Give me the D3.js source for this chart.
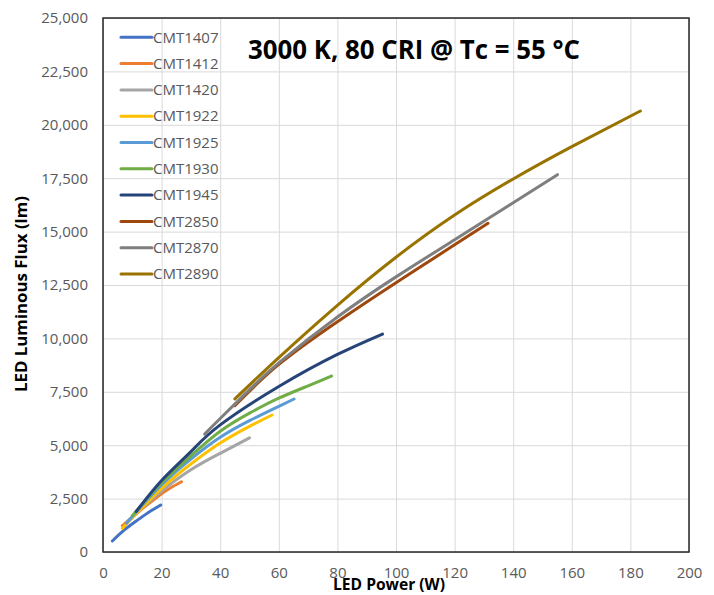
<!DOCTYPE html>
<html><head><meta charset="utf-8">
<script src="https://cdn.jsdelivr.net/npm/d3@7"></script>
<style>
body{margin:0;background:#fff;}
svg{display:block;font-family:"Open Sans",sans-serif;}
</style></head>
<body>
<svg id="chart" width="714" height="595"></svg>
<script>
// ---- data (LED power W, luminous flux lm) ----
const seriesNames = ["CMT1407","CMT1412","CMT1420","CMT1922","CMT1925","CMT1930","CMT1945","CMT2850","CMT2870","CMT2890"];
const cmt1407 = [[3.2,515],[7,1000],[11.5,1466],[15.5,1850],[19.7,2200]];
const cmt1412 = [[6.6,1231],[11.5,1811],[15,2200],[19.4,2669],[23,3000],[26.8,3291]];
const cmt1420 = [[8.5,1450],[12,1900],[20,2850],[30,3850],[40,4620],[50,5340]];
const cmt1922 = [[6.6,1100],[10,1600],[20,2980],[30,4120],[40,5100],[50,5880],[57.7,6414]];
const cmt1925 = [[8,1350],[12,1970],[20,3150],[30,4350],[40,5370],[50,6150],[60,6820],[65.2,7163]];
const cmt1930 = [[10,1700],[15,2500],[20,3250],[30,4500],[40,5650],[50,6500],[60,7200],[70,7780],[78,8240]];
const cmt1945 = [[11.3,1890],[20,3350],[30,4700],[40,5950],[60,7750],[80,9250],[95.4,10206]];
const cmt2850 = [[45,6850],[60,8780],[80,10782],[100,12608],[120,14380],[131.4,15387]];
const cmt2870 = [[34.7,5520],[40,6250],[50,7600],[60,8850],[80,11000],[100,12880],[120,14620],[140,16350],[155.1,17665]];
const cmt2890 = [[45,7163],[60,9100],[80,11550],[100,13800],[120,15777],[140,17463],[160,18976],[183.4,20646]];
const seriesData = [cmt1407,cmt1412,cmt1420,cmt1922,cmt1925,cmt1930,cmt1945,cmt2850,cmt2870,cmt2890];
const xTicks = [0,20,40,60,80,100,120,140,160,180,200];
const yTicks = [0,2500,5000,7500,10000,12500,15000,17500,20000,22500,25000];
const titleText = "3000 K, 80 CRI @ Tc = 55 °C";
const xTitle = "LED Power (W)";
const yTitle = "LED Luminous Flux (lm)";

// ---- styles ----
const colors = ["#4472C4","#ED7D31","#A5A5A5","#FFC000","#5B9BD5","#70AD47","#264478","#9E480E","#7F7F7F","#997300"];
const m = {left:103, right:689, top:18, bottom:552};

const svg = d3.select("#chart");
const x = d3.scaleLinear().domain([0,200]).range([m.left,m.right]);
const y = d3.scaleLinear().domain([0,25000]).range([m.bottom,m.top]);

// gridlines
svg.append("g").attr("transform",`translate(0,${m.bottom})`)
  .call(d3.axisBottom(x).tickValues(xTicks).tickSize(-(m.bottom-m.top)).tickFormat(""))
  .call(g=>g.select(".domain").remove())
  .call(g=>g.selectAll("line").attr("stroke","#d9d9d9").attr("stroke-width",1));
svg.append("g").attr("transform",`translate(${m.left},0)`)
  .call(d3.axisLeft(y).tickValues(yTicks).tickSize(-(m.right-m.left)).tickFormat(""))
  .call(g=>g.select(".domain").remove())
  .call(g=>g.selectAll("line").attr("stroke","#d9d9d9").attr("stroke-width",1));

// tick labels
svg.append("g").attr("transform",`translate(0,${m.bottom})`)
  .call(d3.axisBottom(x).tickValues(xTicks).tickSize(0).tickPadding(15).tickFormat(d3.format("d")))
  .call(g=>g.select(".domain").remove())
  .call(g=>g.selectAll("text").attr("fill","#595959").style("font-size","15px").style("font-family","Open Sans"));
svg.append("g").attr("transform",`translate(${m.left},0)`)
  .call(d3.axisLeft(y).tickValues(yTicks).tickSize(0).tickPadding(15).tickFormat(d3.format(",")))
  .call(g=>g.select(".domain").remove())
  .call(g=>g.selectAll("text").attr("fill","#595959").style("font-size","15px").style("font-family","Open Sans"));

// plot border
svg.append("rect").attr("x",m.left).attr("y",m.top).attr("width",m.right-m.left).attr("height",m.bottom-m.top)
  .attr("fill","none").attr("stroke","#262626").attr("stroke-width",1.5);

// lines
const line = d3.line().x(d=>x(d[0])).y(d=>y(d[1])).curve(d3.curveNatural);
svg.append("g").selectAll("path").data(seriesData).join("path")
  .attr("d",line).attr("fill","none")
  .attr("stroke",(d,i)=>colors[i]).attr("stroke-width",3).attr("stroke-linecap","round");

// legend
const lg = svg.append("g");
seriesNames.forEach((n,i)=>{
  const yy = 37.3 + i*26.3;
  lg.append("line").attr("x1",121).attr("x2",152).attr("y1",yy).attr("y2",yy)
    .attr("stroke",colors[i]).attr("stroke-width",3).attr("stroke-linecap","round");
  lg.append("text").attr("x",153).attr("y",yy).attr("dy","0.35em").text(n)
    .attr("fill","#595959").style("font-size","15px");
});

// title
svg.append("text").attr("x",414).attr("y",59).attr("text-anchor","middle")
  .attr("textLength",332).attr("lengthAdjust","spacingAndGlyphs")
  .style("font-size","26px").style("font-weight","bold").attr("fill","#000").text(titleText);

// axis titles
svg.append("text").attr("x",389).attr("y",590).attr("text-anchor","middle")
  .attr("textLength",112).attr("lengthAdjust","spacingAndGlyphs")
  .style("font-size","16px").style("font-weight","bold").attr("fill","#000").text(xTitle);
svg.append("text").attr("transform","translate(27,294) rotate(-90)").attr("text-anchor","middle")
  .attr("textLength",196).attr("lengthAdjust","spacingAndGlyphs")
  .style("font-size","16px").style("font-weight","bold").attr("fill","#000").text(yTitle);
</script>
</body></html>
